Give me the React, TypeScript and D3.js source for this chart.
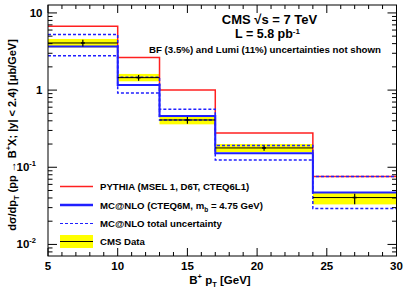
import React from 'react';
import * as d3 from 'd3';

// bin edges in pT [GeV]
const edges = [5, 10, 13, 17, 24, 30];

// PYTHIA prediction
const pythia = [6.7, 2.64, 1.0, 0.277, 0.0757];
// MC@NLO central value and total uncertainty band
const mcnlo = [3.68, 1.16, 0.46, 0.152, 0.047];
const mcnloUp = [5.24, 1.47, 0.565, 0.191, 0.0757];
const mcnloDown = [2.78, 0.92, 0.41, 0.124, 0.0292];

// CMS data
const dataVal = [4.08, 1.45, 0.41, 0.178, 0.0405];
const dataErrHi = [4.5, 1.57, 0.448, 0.19, 0.0455];
const dataErrLo = [3.66, 1.32, 0.367, 0.164, 0.0332];
const bandHi = [4.6, 1.62, 0.45, 0.2, 0.047];
const bandLo = [3.57, 1.3, 0.36, 0.157, 0.033];

const xTicks = [5, 10, 15, 20, 25, 30];
const yDecades = [
  { v: 10, base: '10', exp: '' },
  { v: 1, base: '1', exp: '' },
  { v: 0.1, base: '10', exp: '-1' },
  { v: 0.01, base: '10', exp: '-2' },
];

const W = 406;
const H = 301;
const m = { left: 48, right: 396.5, top: 5, bottom: 256 };
const FONT = '"Liberation Sans", Arial, Helvetica, sans-serif';

export default function App() {
  const x = d3.scaleLinear().domain([5, 30]).range([m.left, m.right]);
  const y = d3.scaleLog().domain([0.00708, 12.67]).range([m.bottom, m.top]);

  const step = (vals: number[]) => {
    const pts: [number, number][] = [];
    vals.forEach((v, i) => {
      pts.push([x(edges[i]), y(v)]);
      pts.push([x(edges[i + 1]), y(v)]);
    });
    return d3.line()(pts) || '';
  };

  const minorX = d3.range(5, 31, 1).filter((v) => v % 5 !== 0);
  const minorY: number[] = [];
  [0.001, 0.01, 0.1, 1, 10].forEach((d) => {
    for (let k = 2; k <= 9; k++) {
      const v = d * k;
      if (v > 0.00708 && v < 12.67) minorY.push(v);
    }
  });

  const items = [
    { label: 'PYTHIA (MSEL 1, D6T, CTEQ6L1)', y: 186.5 },
    { label: 'MC@NLO', y: 205 },
    { label: 'MC@NLO total uncertainty', y: 223.5 },
    { label: 'CMS Data', y: 241.5 },
  ];

  return (
    <svg width={W} height={H} style={{ position: 'absolute', left: 0, top: 0 }} fontFamily={FONT} fontWeight="bold">
      <rect width={W} height={H} fill="#fff" />

      {/* data band */}
      {dataVal.map((_, i) => (
        <rect key={'b' + i} x={x(edges[i])} width={x(edges[i + 1]) - x(edges[i])}
          y={y(bandHi[i])} height={y(bandLo[i]) - y(bandHi[i])} fill="#ffff00" />
      ))}

      <path d={step(pythia)} fill="none" stroke="#ff2020" strokeWidth={1.5} />
      <path d={step(mcnlo)} fill="none" stroke="#2020ff" strokeWidth={2} />
      <path d={step(mcnloUp)} fill="none" stroke="#2020ff" strokeWidth={1.5} strokeDasharray="3,2" />
      <path d={step(mcnloDown)} fill="none" stroke="#2020ff" strokeWidth={1.5} strokeDasharray="3,2" />

      {/* data points */}
      {dataVal.map((v, i) => {
        const cx = x((edges[i] + edges[i + 1]) / 2);
        return (
          <g key={'d' + i} stroke="#000">
            <line x1={x(edges[i])} x2={x(edges[i + 1])} y1={y(v)} y2={y(v)} strokeWidth={1} />
            <line x1={cx} x2={cx} y1={y(dataErrHi[i])} y2={y(dataErrLo[i])} strokeWidth={1.2} />
            <line x1={cx - 2} x2={cx + 2} y1={y(v)} y2={y(v)} strokeWidth={1.5} />
          </g>
        );
      })}

      {/* frame */}
      <rect x={m.left} y={m.top} width={m.right - m.left} height={m.bottom - m.top} fill="none" stroke="#000" strokeWidth={1} />

      {/* ticks */}
      <g stroke="#000" strokeWidth={1}>
        {xTicks.map((t) => (
          <g key={'xt' + t}>
            <line x1={x(t)} x2={x(t)} y1={m.bottom} y2={m.bottom - 8} />
            <line x1={x(t)} x2={x(t)} y1={m.top} y2={m.top + 8} />
          </g>
        ))}
        {minorX.map((t) => (
          <g key={'xm' + t}>
            <line x1={x(t)} x2={x(t)} y1={m.bottom} y2={m.bottom - 4} />
            <line x1={x(t)} x2={x(t)} y1={m.top} y2={m.top + 4} />
          </g>
        ))}
        {yDecades.map((t) => (
          <g key={'yt' + t.v}>
            <line x1={m.left} x2={m.left + 9} y1={y(t.v)} y2={y(t.v)} />
            <line x1={m.right} x2={m.right - 9} y1={y(t.v)} y2={y(t.v)} />
          </g>
        ))}
        {minorY.map((t) => (
          <g key={'ym' + t}>
            <line x1={m.left} x2={m.left + 4.5} y1={y(t)} y2={y(t)} />
            <line x1={m.right} x2={m.right - 4.5} y1={y(t)} y2={y(t)} />
          </g>
        ))}
      </g>

      {/* tick labels */}
      {xTicks.map((t) => (
        <text key={'xl' + t} x={x(t)} y={270} fontSize={11.5} textAnchor="middle">{t}</text>
      ))}
      {yDecades.map((t) => (
        <text key={'yl' + t.v} x={t.exp ? 36 : 42.5} y={y(t.v) + 4} fontSize={11.5} textAnchor="end">
          {t.base}
          {t.exp && <tspan fontSize={7.5} dy={-5}>{t.exp}</tspan>}
        </text>
      ))}

      {/* axis titles */}
      <text x={220} y={284} fontSize={11.5} textAnchor="middle">
        B<tspan fontSize={7.5} dy={-5}>+</tspan>
        <tspan dy={5}> p</tspan><tspan fontSize={7.5} dy={3}>T</tspan>
        <tspan dy={-3}> [GeV]</tspan>
      </text>
      <text transform="translate(16,135) rotate(-90)" fontSize={11} textAnchor="middle">
        dσ/dp<tspan fontSize={7.5} dy={3}>T</tspan>
        <tspan dy={-3}> (pp → B</tspan><tspan fontSize={7.5} dy={-5}>+</tspan>
        <tspan dy={5}>X; |y| &lt; 2.4) [μb/GeV]</tspan>
      </text>

      {/* header */}
      <text x={269.5} y={23.5} fontSize={13} textAnchor="middle">CMS √s = 7 TeV</text>
      <text x={267.5} y={38} fontSize={12.5} textAnchor="middle">
        L = 5.8 pb<tspan fontSize={8} dy={-4.5}>-1</tspan>
      </text>
      <text x={265} y={52.5} fontSize={9.7} textAnchor="middle">BF (3.5%) and Lumi (11%) uncertainties not shown</text>

      {/* legend */}
      <line x1={60} x2={93} y1={items[0].y} y2={items[0].y} stroke="#ff2020" strokeWidth={1.5} />
      <line x1={60} x2={93} y1={items[1].y} y2={items[1].y} stroke="#2020ff" strokeWidth={2.5} />
      <line x1={60} x2={93} y1={items[2].y} y2={items[2].y} stroke="#2020ff" strokeWidth={1.2} strokeDasharray="3,2" />
      <rect x={60} y={235} width={33} height={13} fill="#ffff00" />
      <line x1={60} x2={93} y1={items[3].y} y2={items[3].y} stroke="#000" strokeWidth={1} />
      <g fontSize={9.6}>
        <text x={100} y={items[0].y + 3.5}>{items[0].label}</text>
        <text x={100} y={items[1].y + 3.5}>
          MC@NLO (CTEQ6M, m<tspan fontSize={6.5} dy={3}>b</tspan><tspan dy={-3}> = 4.75 GeV)</tspan>
        </text>
        <text x={100} y={items[2].y + 3.5}>{items[2].label}</text>
        <text x={100} y={items[3].y + 3.5}>{items[3].label}</text>
      </g>
    </svg>
  );
}
